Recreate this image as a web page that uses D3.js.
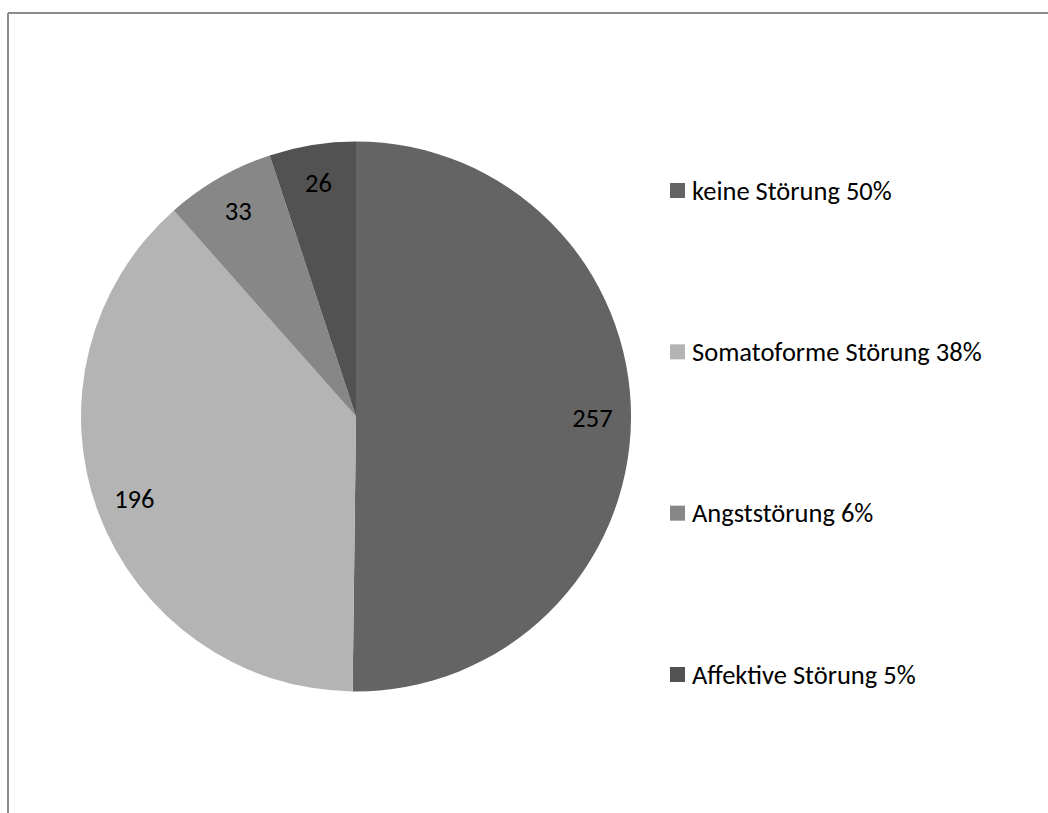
<!DOCTYPE html>
<html>
<head>
<meta charset="utf-8">
<script src="https://cdn.jsdelivr.net/npm/d3@7"></script>
<style>
  html, body { margin: 0; padding: 0; background: #fff; }
  svg { display: block; }
  text { font-family: Carlito, Calibri, Lato, "Open Sans", sans-serif; fill: #000; font-weight: 400; }
</style>
</head>
<body>
<svg id="chart" width="1048" height="813"></svg>
<script>
// Diagnoses of the patient group (counts)
const categories = ["keine Störung", "Somatoforme Störung", "Angststörung", "Affektive Störung"];
const counts = [257, 196, 33, 26];
const percentLabels = ["50%", "38%", "6%", "5%"];
const colors = ["#646464", "#b4b4b4", "#878787", "#525252"];

const svg = d3.select("#chart");
const W = 1048, H = 813;
const fontSize = 26.5;

// Chart frame (only top and left edges fall inside the page)
svg.append("line").attr("x1", 8).attr("y1", 13).attr("x2", W).attr("y2", 13)
  .attr("stroke", "#8c8c8c").attr("stroke-width", 2);
svg.append("line").attr("x1", 8).attr("y1", 13).attr("x2", 8).attr("y2", H)
  .attr("stroke", "#8c8c8c").attr("stroke-width", 2);

const cx = 356, cy = 416.5, R = 275;
const data = categories.map((c, i) => ({ name: c, value: counts[i], pct: percentLabels[i], color: colors[i] }));

const pie = d3.pie().value(d => d.value).sort(null);
const arcs = pie(data);
const arc = d3.arc().innerRadius(0).outerRadius(R);
const labelArc = d3.arc().innerRadius(R * 0.86).outerRadius(R * 0.86);

const g = svg.append("g").attr("transform", `translate(${cx},${cy})`);
g.selectAll("path.slice").data(arcs).join("path")
  .attr("class", "slice")
  .attr("d", arc)
  .attr("fill", d => d.data.color);

g.selectAll("text.val").data(arcs).join("text")
  .attr("class", "val")
  .attr("x", d => labelArc.centroid(d)[0])
  .attr("y", d => labelArc.centroid(d)[1] + 9)
  .attr("text-anchor", "middle")
  .attr("font-size", fontSize)
  .text(d => d.data.value);

// Legend
const legendY = d3.scalePoint().domain(categories).range([190.5, 674.5]);
const item = svg.append("g").selectAll("g.item").data(data).join("g")
  .attr("class", "item")
  .attr("transform", d => `translate(670,${legendY(d.name)})`);
item.append("rect").attr("x", 0).attr("y", -7.5).attr("width", 15).attr("height", 15)
  .attr("fill", d => d.color);
item.append("text").attr("x", 22).attr("y", 9)
  .attr("font-size", fontSize)
  .text(d => `${d.name} ${d.pct}`);
</script>
</body>
</html>
